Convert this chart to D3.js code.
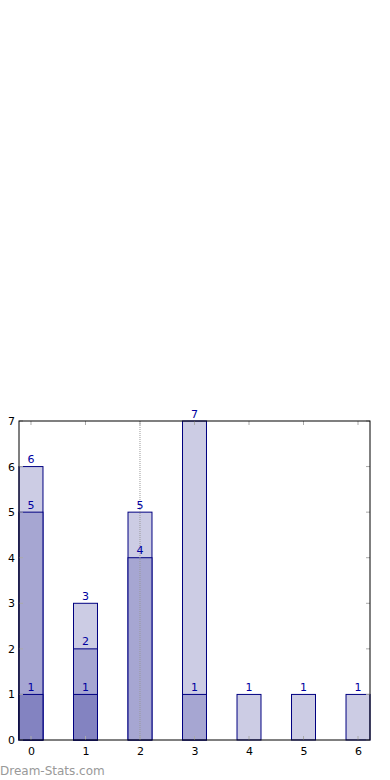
<!DOCTYPE html>
<html>
<head>
<meta charset="utf-8">
<script src="https://cdn.jsdelivr.net/npm/d3@7"></script>
<style>
  body { margin: 0; background: #fff; }
  text { font-family: "DejaVu Sans", sans-serif; }
</style>
</head>
<body>
<svg id="chart" width="390" height="780"></svg>
<script>
// values per category, drawn as overlapping layers (back to front)
const categories = [0, 1, 2, 3, 4, 5, 6];
const totalCounts = [6, 3, 5, 7, 1, 1, 1];
const midCounts = [5, 2, 4, 1, 0, 0, 0];
const lowCounts = [1, 1, 0, 0, 0, 0, 0];
const yTicks = [0, 1, 2, 3, 4, 5, 6, 7];
const markerCategory = 2;

const margin = { top: 421, right: 20, bottom: 40, left: 19 };
const width = 390 - margin.left - margin.right;
const height = 780 - margin.top - margin.bottom;
const barW = 0.44;

const svg = d3.select('#chart');
const g = svg.append('g').attr('transform', `translate(${margin.left},${margin.top})`);

const x = d3.scaleLinear().domain([-0.22, 6.22]).range([0, width]);
const y = d3.scaleLinear().domain([0, 7]).range([height, 0]);

const layers = [
  { values: totalCounts, fill: '#ccccE4' },
  { values: midCounts, fill: '#a6a6d2' },
  { values: lowCounts, fill: '#8383c1' }
];

layers.forEach(layer => {
  const data = categories.map((c, i) => ({ c, v: layer.values[i] })).filter(d => d.v > 0);
  g.selectAll(null).data(data).enter().append('rect')
    .attr('x', d => x(d.c - barW / 2))
    .attr('y', d => y(d.v))
    .attr('width', x(barW) - x(0))
    .attr('height', d => y(0) - y(d.v))
    .attr('fill', layer.fill)
    .attr('stroke', '#000080')
    .attr('stroke-width', 1);
});

// dotted marker line
g.append('line')
  .attr('x1', x(markerCategory)).attr('x2', x(markerCategory))
  .attr('y1', 0).attr('y2', height)
  .attr('stroke', '#999')
  .attr('stroke-dasharray', '1,1')
  .attr('stroke-width', 1);

// value labels
layers.forEach(layer => {
  const data = categories.map((c, i) => ({ c, v: layer.values[i] })).filter(d => d.v > 0);
  g.selectAll(null).data(data).enter().append('text')
    .attr('x', d => x(d.c))
    .attr('y', d => y(d.v) - 3.5)
    .attr('text-anchor', 'middle')
    .attr('font-size', 11)
    .attr('fill', '#0000a0')
    .text(d => d.v);
});

// inner tick marks
const tickCol = '#aaa';
categories.forEach(c => {
  g.append('line').attr('x1', x(c)).attr('x2', x(c)).attr('y1', height).attr('y2', height - 4).attr('stroke', tickCol);
  g.append('line').attr('x1', x(c)).attr('x2', x(c)).attr('y1', 0).attr('y2', 4).attr('stroke', tickCol);
});
yTicks.forEach(t => {
  g.append('line').attr('x1', 0).attr('x2', 4).attr('y1', y(t)).attr('y2', y(t)).attr('stroke', tickCol);
  g.append('line').attr('x1', width).attr('x2', width - 4).attr('y1', y(t)).attr('y2', y(t)).attr('stroke', tickCol);
});

// axes
const xAxis = d3.axisBottom(x).tickValues(categories).tickSize(0).tickPadding(7).tickFormat(d3.format('d'));
const yAxis = d3.axisLeft(y).tickValues(yTicks).tickSize(0).tickPadding(4).tickFormat(d3.format('d'));
g.append('g').attr('transform', `translate(0,${height})`).call(xAxis)
  .call(s => s.select('.domain').remove())
  .selectAll('text').attr('font-size', 11).attr('font-family', 'DejaVu Sans').attr('fill', '#000');
g.append('g').call(yAxis)
  .call(s => s.select('.domain').remove())
  .selectAll('text').attr('font-size', 11).attr('font-family', 'DejaVu Sans').attr('fill', '#000');

// frame
g.append('rect')
  .attr('x', 0).attr('y', 0).attr('width', width).attr('height', height)
  .attr('fill', 'none').attr('stroke', '#000').attr('stroke-width', 1);

// watermark
svg.append('text')
  .attr('x', 0).attr('y', 775)
  .attr('font-size', 12)
  .attr('fill', '#999')
  .text('Dream-Stats.com');
</script>
</body>
</html>
